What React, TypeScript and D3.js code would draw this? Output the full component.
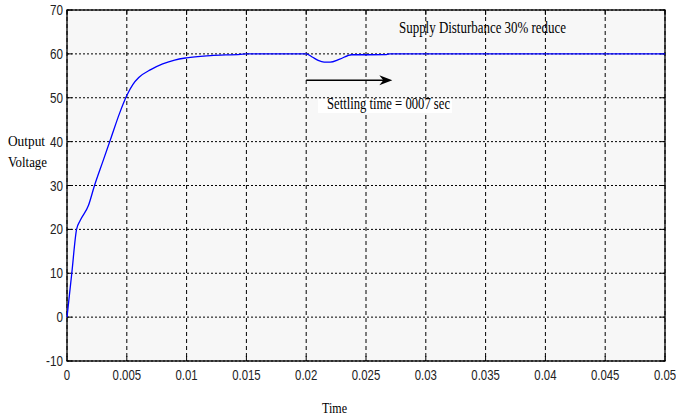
import React from "react";
import * as d3 from "d3";

const timeValues = [0, 0.0004, 0.0008, 0.0011, 0.0018, 0.0023, 0.003, 0.0037, 0.0044, 0.005, 0.0055, 0.006, 0.007, 0.008, 0.009, 0.01, 0.012, 0.0145, 0.015, 0.02, 0.0205, 0.021, 0.0215, 0.022, 0.0228, 0.0238, 0.0245, 0.0267, 0.027, 0.05];
const voltageValues = [0, 10, 20, 22, 25.5, 30, 35.5, 41, 46.5, 50.5, 53, 54.6, 56.4, 57.7, 58.6, 59.1, 59.6, 59.9, 60, 60, 59.3, 58.5, 58.1, 58.1, 58.8, 59.8, 59.8, 59.85, 60, 60];
const xTicks = [0, 0.005, 0.01, 0.015, 0.02, 0.025, 0.03, 0.035, 0.04, 0.045, 0.05];
const xTickLabels = ["0", "0.005", "0.01", "0.015", "0.02", "0.025", "0.03", "0.035", "0.04", "0.045", "0.05"];
const yTicks = [-10, 0, 10, 20, 30, 40, 50, 60, 70];
const yTickLabels = ["-10", "0", "10", "20", "30", "40", "50", "60", "70"];
const arrowStart = [0.02, 54];
const arrowEnd = [0.0272, 54];
const settlingText = "Settling time = 0007 sec";
const disturbanceText = "Supply Disturbance 30% reduce";

const W = 676, H = 418;
const L = 67, R = 665, T = 10, B = 361;

export default function App() {
  const x = d3.scaleLinear().domain([0, 0.05]).range([L, R]);
  const y = d3.scaleLinear().domain([-10, 70]).range([B, T]);
  const pts: [number, number][] = timeValues.map((t, i) => [t, voltageValues[i]]);
  const line = d3.line<[number, number]>().x(d => x(d[0])).y(d => y(d[1])).curve(d3.curveMonotoneX);
  const tickFont = "'Liberation Sans', Arial, sans-serif";
  const serif = "'Liberation Serif', 'Times New Roman', serif";
  const ax = x(arrowEnd[0]);
  const ay = y(arrowEnd[1]);
  return (
    <svg width={W} height={H} style={{ position: "absolute", left: 0, top: 0, background: "#fff" }}>
      <rect x={L} y={T} width={R - L} height={B - T} fill="#f7f7f7" />
      {yTicks.map(v => (
        <line key={"gy" + v} x1={L} x2={R} y1={y(v)} y2={y(v)} stroke="#000" strokeWidth={1} strokeDasharray="2,2" />
      ))}
      {xTicks.map(v => (
        <line key={"gx" + v} x1={x(v)} x2={x(v)} y1={T} y2={B} stroke="#000" strokeWidth={1} strokeDasharray="4,3" />
      ))}
      {yTicks.map(v => (
        <g key={"ty" + v}>
          <line x1={L} x2={L + 5} y1={y(v)} y2={y(v)} stroke="#000" />
          <line x1={R} x2={R - 5} y1={y(v)} y2={y(v)} stroke="#000" />
        </g>
      ))}
      {xTicks.map(v => (
        <g key={"tx" + v}>
          <line x1={x(v)} x2={x(v)} y1={B} y2={B - 5} stroke="#000" />
          <line x1={x(v)} x2={x(v)} y1={T} y2={T + 5} stroke="#000" />
        </g>
      ))}
      <rect x={L} y={T} width={R - L} height={B - T} fill="none" stroke="#000" strokeWidth={1.3} />
      <path d={line(pts) || ""} fill="none" stroke="#0000ff" strokeWidth={1.3} />
      <line x1={x(arrowStart[0])} x2={ax - 8} y1={y(arrowStart[1])} y2={ay} stroke="#000" strokeWidth={1.5} />
      <path d={`M${ax},${ay} L${ax - 13},${ay - 5} L${ax - 9},${ay} L${ax - 13},${ay + 5} Z`} fill="#000" />
      <rect x={318} y={99} width={134} height={14} fill="#fff" />
      <text x={327} y={109} fontFamily={serif} fontSize={16} textLength={123} lengthAdjust="spacingAndGlyphs" fill="#000">{settlingText}</text>
      <text x={399} y={33} fontFamily={serif} fontSize={16} textLength={167} lengthAdjust="spacingAndGlyphs" fill="#000">{disturbanceText}</text>
      {yTicks.map((v, i) => (
        <text key={"ly" + v} transform={`translate(${L - 4},${y(v) + 5}) scale(0.78,1)`} textAnchor="end" fontFamily={tickFont} fontSize={15} fill="#222">{yTickLabels[i]}</text>
      ))}
      {xTicks.map((v, i) => (
        <text key={"lx" + v} transform={`translate(${x(v)},${380}) scale(0.76,1)`} textAnchor="middle" fontFamily={tickFont} fontSize={15} fill="#222">{xTickLabels[i]}</text>
      ))}
      <text x={8} y={146} fontFamily={serif} fontSize={15} textLength={37} lengthAdjust="spacingAndGlyphs">Output</text>
      <text x={8} y={167} fontFamily={serif} fontSize={15} textLength={39} lengthAdjust="spacingAndGlyphs">Voltage</text>
      <text x={322} y={413} fontFamily={serif} fontSize={15} textLength={25} lengthAdjust="spacingAndGlyphs">Time</text>
    </svg>
  );
}
